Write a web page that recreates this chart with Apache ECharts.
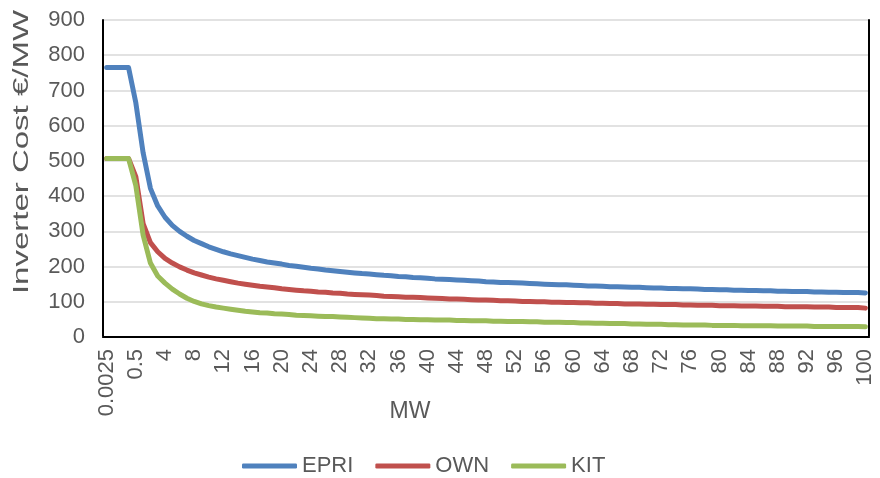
<!DOCTYPE html>
<html>
<head>
<meta charset="utf-8">
<script src="https://cdn.jsdelivr.net/npm/echarts@6/dist/echarts.min.js"></script>
<style>
  html, body { margin: 0; padding: 0; background: #fff; }
  #chart { width: 880px; height: 478px; }
</style>
</head>
<body>
<div id="chart"></div>
<script>
// Plant size categories (MW)
const sizes = [
  '0.0025', '0.01', '0.1', '0.25', '0.5',
  '1', '2', '3', '4', '5', '6', '7', '8', '9', '10',
  '11', '12', '13', '14', '15', '16', '17', '18', '19', '20',
  '21', '22', '23', '24', '25', '26', '27', '28', '29', '30',
  '31', '32', '33', '34', '35', '36', '37', '38', '39', '40',
  '41', '42', '43', '44', '45', '46', '47', '48', '49', '50',
  '51', '52', '53', '54', '55', '56', '57', '58', '59', '60',
  '61', '62', '63', '64', '65', '66', '67', '68', '69', '70',
  '71', '72', '73', '74', '75', '76', '77', '78', '79', '80',
  '81', '82', '83', '84', '85', '86', '87', '88', '89', '90',
  '91', '92', '93', '94', '95', '96', '97', '98', '99', '100'
];

// Inverter cost, EUR per MW
const epri = [
  765, 765, 765, 765, 665,
  523, 422, 372, 340, 317, 300, 286, 274, 265, 256,
  249, 242, 236, 231, 226, 221, 217, 213, 210, 207,
  203, 201, 198, 195, 193, 190, 188, 186, 184, 182,
  180, 179, 177, 175, 174, 172, 171, 169, 168, 167,
  165, 164, 163, 162, 161, 160, 159, 157, 156, 155,
  155, 154, 153, 152, 151, 150, 149, 148, 148, 147,
  146, 145, 145, 144, 143, 143, 142, 141, 141, 140,
  139, 139, 138, 138, 137, 137, 136, 135, 135, 134,
  134, 133, 133, 132, 132, 131, 131, 130, 130, 129,
  129, 129, 128, 128, 127, 127, 126, 126, 126, 125
];

const own = [
  507, 507, 507, 507, 455,
  322, 268, 242, 223, 210, 199, 190, 182, 176, 170,
  165, 161, 157, 153, 150, 147, 144, 142, 140, 137,
  135, 133, 131, 130, 128, 127, 125, 124, 122, 121,
  120, 119, 118, 116, 115, 114, 113, 113, 112, 111,
  110, 109, 108, 108, 107, 106, 105, 105, 104, 103,
  103, 102, 101, 101, 100, 100, 99, 99, 98, 98,
  97, 97, 96, 96, 95, 95, 94, 94, 94, 93,
  93, 92, 92, 92, 91, 91, 90, 90, 90, 89,
  89, 89, 88, 88, 88, 87, 87, 87, 86, 86,
  86, 86, 85, 85, 85, 84, 84, 84, 84, 82
];

const kit = [
  507, 507, 507, 507, 430,
  289, 210, 173, 153, 136, 122, 110, 101, 94, 89,
  85, 82, 79, 76, 73, 71, 69, 68, 66, 65,
  64, 62, 61, 60, 59, 58, 58, 57, 56, 55,
  54, 53, 52, 52, 51, 51, 50, 50, 49, 49,
  48, 48, 48, 47, 47, 46, 46, 46, 45, 45,
  44, 44, 44, 43, 43, 42, 42, 42, 41, 41,
  40, 40, 39, 39, 38, 38, 38, 37, 37, 36,
  36, 36, 35, 35, 34, 34, 34, 34, 33, 33,
  33, 33, 32, 32, 32, 32, 32, 31, 31, 31,
  31, 31, 30, 30, 30, 30, 30, 30, 30, 29
];

const seriesNames = ['EPRI', 'OWN', 'KIT'];
const seriesColors = ['#4F81BD', '#C0504D', '#9BBB59'];
const yTitle = 'Inverter Cost €/MW';
const xTitle = 'MW';

const FONT = '"Liberation Sans", Arial, sans-serif';
const TEXT = '#595959';
const GRID = '#d9d9d9';

const chart = echarts.init(document.getElementById('chart'), null, { renderer: 'canvas' });

function lineSeries(name, data, color) {
  return {
    name: name,
    type: 'line',
    data: data,
    symbol: 'none',
    smooth: false,
    lineStyle: { color: color, width: 5, cap: 'round', join: 'round' },
    itemStyle: { color: color },
    emphasis: { disabled: true }
  };
}

chart.setOption({
  animation: false,
  backgroundColor: '#fff',
  grid: { left: 103, right: 11, top: 20, bottom: 141, containLabel: false },
  xAxis: [
    {
      type: 'category',
      data: sizes,
      boundaryGap: true,
      axisLine: { lineStyle: { color: GRID, width: 1.5 } },
      axisTick: { show: false },
      axisLabel: {
        interval: 3, rotate: 90, margin: 12,
        fontSize: 22, color: TEXT, fontFamily: FONT
      },
      splitLine: { show: false }
    },
    {
      type: 'category',
      data: sizes,
      position: 'top',
      boundaryGap: true,
      axisLine: { lineStyle: { color: '#000', width: 2 } },
      axisTick: { show: false },
      axisLabel: { show: false }
    }
  ],
  yAxis: [
    {
      type: 'value',
      min: 0, max: 900, interval: 100,
      axisLine: { show: true, lineStyle: { color: '#000', width: 2 } },
      axisTick: { show: false },
      axisLabel: { margin: 18, fontSize: 22, color: TEXT, fontFamily: FONT },
      splitLine: { lineStyle: { color: GRID, width: 1.5 } }
    },
    {
      type: 'value',
      position: 'right',
      min: 0, max: 900, interval: 100,
      axisLine: { show: true, lineStyle: { color: '#000', width: 2 } },
      axisTick: { show: false },
      axisLabel: { show: false },
      splitLine: { show: false }
    }
  ],
  legend: {
    data: seriesNames,
    orient: 'horizontal',
    left: 237,
    top: 450,
    icon: 'roundRect',
    itemWidth: 55,
    itemHeight: 5,
    itemGap: 22,
    textStyle: { fontSize: 22, color: TEXT, fontFamily: FONT }
  },
  graphic: [
    {
      type: 'text',
      x: 22, y: 152,
      rotation: Math.PI / 2,
      scaleX: 1.5,
      style: {
        text: yTitle, fill: TEXT, fontSize: 22, fontFamily: FONT,
        align: 'center', verticalAlign: 'middle'
      }
    },
    {
      type: 'text',
      x: 410, y: 412,
      style: {
        text: xTitle, fill: TEXT, fontSize: 23, fontFamily: FONT,
        align: 'center', verticalAlign: 'middle'
      }
    }
  ],
  series: [
    lineSeries(seriesNames[0], epri, seriesColors[0]),
    lineSeries(seriesNames[1], own, seriesColors[1]),
    lineSeries(seriesNames[2], kit, seriesColors[2])
  ]
});
</script>
</body>
</html>
